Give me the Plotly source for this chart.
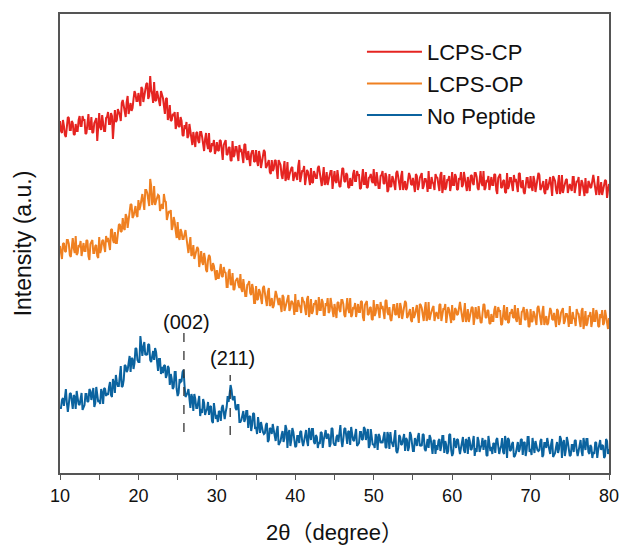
import numpy as np
import plotly.graph_objects as go

# 2-theta scan grid (degrees), 0.125 deg step
two_theta = np.round(np.arange(10, 80.001, 0.125), 3)

# Intensities (arbitrary units, stacked offsets included), 8 points per degree
lcps_cp = [
    353,343,341,354,348,339,337,351, 357,356,344,344,353,351,340,339,
    350,343,343,354,358,348,348,358, 354,354,340,341,356,360,345,345,
    357,341,342,351,353,356,333,347, 361,347,344,359,351,343,343,356,
    357,362,350,350,361,358,335,346, 364,352,354,365,362,359,353,371,
    374,369,362,357,372,378,360,364, 371,363,366,375,383,380,373,373,
    381,375,368,387,385,372,377,385, 390,391,375,378,398,384,380,371,
    392,374,373,383,377,375,368,383, 379,376,368,360,375,376,354,358,
    369,353,354,360,359,362,345,350, 362,348,347,357,353,339,338,349,
    345,352,336,338,350,343,337,329, 342,331,327,341,342,333,331,342,
    342,337,326,323,335,341,330,325, 341,322,323,331,328,334,320,324,
    332,324,323,334,333,318,314,329, 332,334,319,320,326,327,314,313,
    333,317,319,327,327,320,313,329, 322,325,314,311,329,330,317,314,
    323,311,308,320,323,323,312,313, 324,313,308,323,317,306,312,317,
    324,322,306,308,311,314,302,300, 314,303,305,313,314,305,295,314,
    312,309,299,295,305,313,293,297, 312,294,299,304,306,307,293,298,
    302,298,294,308,314,292,297,303, 303,308,289,295,304,302,294,289,
    306,292,291,303,300,296,296,306, 308,301,291,288,297,307,289,292,
    302,289,294,299,303,303,285,294, 303,293,291,304,298,288,287,300,
    306,305,293,292,301,299,287,286, 296,289,289,300,304,293,293,303,
    299,299,285,286,301,305,290,290, 302,286,287,296,297,300,293,291,
    305,291,288,302,294,286,286,298, 299,303,291,290,301,297,282,284,
    300,287,288,298,295,291,284,301, 303,297,290,284,298,303,284,288,
    293,284,286,294,301,298,290,289, 296,289,282,300,298,284,288,296,
    300,301,285,288,295,295,291,282, 303,286,286,297,292,290,284,300,
    297,296,289,283,299,302,281,287, 299,284,287,294,294,298,283,289,
    302,289,289,300,297,284,285,296, 294,302,287,289,302,296,291,283,
    297,287,283,298,299,291,289,301, 301,297,286,284,296,303,291,288,
    303,284,286,294,292,298,284,289, 297,289,289,300,299,284,280,296,
    298,300,286,287,293,294,282,281, 301,285,288,296,296,289,283,299,
    292,295,285,282,300,301,288,286, 294,282,280,292,296,296,286,287,
    298,287,283,298,293,282,289,294, 301,299,284,286,290,293,282,280,
    295,284,287,295,297,288,278,298, 296,293,284,280,291,299,280,284,
    299,281,286,291,294,295,281,286, 290,286,283,297,297,281,286,293,
    292,297,278,284,294,291,284,278, 296,282,281,293,291,286,287,296,
    299,292,282,279,288,298,279,283, 292,279,284,289,294,293,276,284,
    290,
]

lcps_op = [
    228,218,215,230,231,223,222,234, 234,230,219,217,230,236,226,221,
    238,219,221,229,227,233,218,224, 231,223,223,234,233,218,214,230,
    232,234,221,221,228,229,218,216, 237,221,225,233,234,227,222,238,
    232,236,227,224,244,245,234,231, 242,231,231,243,249,250,242,243,
    256,246,244,260,257,246,255,261, 270,269,256,258,264,268,259,257,
    274,264,268,277,280,272,264,284, 284,281,272,268,295,288,269,273,
    288,269,273,277,279,278,263,267, 270,265,280,273,272,254,258,263,
    261,264,244,248,257,252,243,236, 252,237,234,245,242,235,235,242,
    244,236,225,221,229,237,218,220, 229,215,219,223,227,225,207,214,
    223,212,209,221,215,204,202,214, 219,217,205,203,211,208,197,194,
    204,196,196,206,210,198,197,207, 202,201,187,187,202,205,190,189,
    201,184,185,193,194,196,189,186, 200,185,182,195,187,178,178,189,
    190,193,181,179,190,185,171,171, 188,174,175,185,182,177,170,186,
    188,181,174,168,182,186,168,170, 176,166,168,176,183,179,171,169,
    176,169,162,179,177,163,167,174, 178,179,163,166,173,172,169,159,
    180,163,163,174,169,167,161,177, 173,172,165,159,175,178,157,163,
    175,160,163,170,170,174,159,165, 177,164,164,175,172,159,159,171,
    168,176,161,163,176,170,165,157, 170,160,156,171,172,164,162,174,
    174,170,159,157,169,176,165,161, 176,157,159,167,165,171,157,162,
    170,162,162,173,172,157,153,169, 171,173,159,160,166,167,155,154,
    174,158,161,169,169,162,156,172, 165,168,158,155,173,174,162,159,
    167,155,153,165,169,169,159,160, 171,160,156,171,166,155,162,167,
    173,171,156,158,162,165,154,152, 167,156,159,167,169,160,151,170,
    169,166,157,153,164,172,153,157, 172,154,159,164,166,168,153,159,
    162,158,155,169,170,153,159,165, 165,170,151,157,167,164,157,151,
    169,155,154,166,164,159,160,169, 172,165,155,152,161,171,152,156,
    165,152,157,162,167,166,149,157, 167,157,155,168,162,152,151,164,
    170,169,157,156,164,163,151,150, 160,153,153,164,168,157,157,167,
    163,163,149,150,165,169,155,154, 167,151,152,161,161,165,157,156,
    169,155,152,166,158,150,150,162, 163,167,155,154,165,161,147,148,
    165,152,153,163,160,156,149,166, 168,162,155,149,162,168,149,153,
    158,149,151,159,166,163,155,154, 161,154,147,165,163,149,153,161,
    165,166,150,153,160,160,156,147, 168,151,151,162,156,155,148,165,
    161,160,153,147,163,166,145,151, 163,148,151,158,158,162,147,153,
    166,153,153,164,160,148,147,160, 156,164,149,151,164,158,153,145,
    156,
]

no_peptide = [
    66,66,74,76,68,80,85,71, 62,70,80,81,70,65,79,77,
    65,83,76,70,69,77,81,64, 67,69,80,80,72,73,85,83,
    74,80,86,67,71,87,79,72, 74,70,85,81,70,86,85,78,
    81,79,87,92,79,77,95,91, 81,99,92,88,88,98,108,87,
    88,94,109,108,102,104,113,118, 102,116,115,105,111,126,125,114,
    112,112,138,123,118,127,132,119, 120,119,130,129,114,112,120,123,
    114,126,122,111,103,115,115,100, 107,101,108,109,96,99,108,106,
    89,100,95,85,87,102,102,85, 78,81,95,92,93,102,104,89,
    77,79,81,85,70,66,80,76, 63,80,75,66,66,72,78,58,
    65,61,75,71,59,63,65,72, 59,67,68,53,51,71,65,55,
    59,52,63,62,53,66,69,59, 55,62,67,78,72,80,89,84,
    75,74,78,66,64,69,69,52, 52,54,61,63,52,55,63,63,
    46,57,58,43,49,61,60,45, 47,40,57,49,41,52,46,42,
    40,41,49,51,32,34,46,45, 40,50,44,36,33,43,48,29,
    31,33,39,43,32,36,49,45, 26,41,44,28,34,46,42,31,
    27,28,38,38,31,42,43,33, 28,33,41,44,33,28,46,40,
    34,45,45,32,30,39,37,26, 32,30,42,41,26,34,40,44,
    35,40,39,27,30,46,45,31, 29,29,37,39,32,43,49,34,
    27,35,45,46,35,30,43,42, 29,47,40,34,33,41,45,28,
    29,31,42,42,34,35,47,45, 34,40,45,26,29,45,36,29,
    30,26,40,36,24,40,38,31, 33,31,37,42,27,26,42,38,
    25,42,33,29,27,36,44,23, 21,26,39,37,29,30,37,40,
    23,36,34,23,27,42,39,27, 23,23,36,33,28,37,41,28,
    29,28,40,39,25,23,31,35, 26,39,36,26,20,33,34,20,
    29,24,33,35,23,28,38,38, 21,33,29,20,23,39,40,24,
    18,21,36,31,26,35,34,26, 20,26,31,37,24,21,35,33,
    20,37,33,24,25,31,38,18, 26,22,37,33,22,26,29,36,
    24,32,34,19,18,38,32,23, 27,20,31,30,21,34,36,25,
    20,25,28,36,22,20,38,32, 16,36,34,23,24,30,32,17,
    18,21,29,32,22,25,34,35, 19,31,32,18,24,37,37,22,
    25,19,36,29,21,33,28,24, 23,24,33,35,17,19,31,31,
    26,36,30,23,20,30,35,17, 19,21,27,32,21,25,38,35,
    16,31,34,18,24,37,32,22, 18,19,29,29,22,33,34,24,
    18,23,31,34,23,18,36,30, 24,35,35,22,20,29,27,16,
    22,20,32,31,16,24,30,34, 24,29,28,16,18,35,33,20,
    25,
]

series_names = ["LCPS-CP", "LCPS-OP", "No Peptide"]
series_colors = ["#E52421", "#EF8021", "#0B639F"]

# Peak markers on the No Peptide trace
peak_labels = ["(002)", "(211)"]
peak_pos = [25.8, 31.7]
peak_line_low = [42, 39]
peak_line_high = [141, 99]
peak_label_x = [26.1, 32.0]
peak_label_y = [152, 116]

x_ticks = [10, 20, 30, 40, 50, 60, 70, 80]

fig = go.Figure()
for name, ys, col in zip(series_names, [lcps_cp, lcps_op, no_peptide], series_colors):
    fig.add_trace(go.Scatter(
        x=two_theta, y=ys, mode="lines", name=name,
        line=dict(color=col, width=2.0),
    ))

for px, lo, hi in zip(peak_pos, peak_line_low, peak_line_high):
    fig.add_shape(type="line", xref="x", yref="y", x0=px, x1=px, y0=lo, y1=hi,
                  line=dict(color="#333333", width=1.3, dash="dash"))

for lab, lx, ly in zip(peak_labels, peak_label_x, peak_label_y):
    fig.add_annotation(x=lx, y=ly, xref="x", yref="y", text=lab, showarrow=False,
                       font=dict(size=20, color="#111111"))

axis_font = dict(family="Liberation Sans, Arial, sans-serif", color="#111111")

fig.update_layout(
    width=621, height=547,
    margin=dict(l=60, r=12, t=14, b=74),
    paper_bgcolor="white", plot_bgcolor="white",
    font=dict(family="Liberation Sans, Arial, 'Noto Sans CJK SC', sans-serif", color="#111111"),
    showlegend=True,
    legend=dict(x=0.55, y=0.963, xanchor="left", yanchor="top",
                font=dict(size=22, color="#111111"), bgcolor="rgba(0,0,0,0)",
                itemwidth=55, tracegroupgap=0),
    xaxis=dict(
        range=[10, 80], tickvals=x_ticks, ticks="outside", ticklen=5, tickwidth=1.3,
        tickcolor="#555555", showline=True, linecolor="#555555", linewidth=1.8,
        mirror=True, showgrid=False, zeroline=False, automargin=False,
        tickfont=dict(size=18, **axis_font),
        minor=dict(dtick=5, ticks="outside", ticklen=5, tickwidth=1.3, tickcolor="#555555"),
        title=dict(text="2θ（degree）", font=dict(size=22, family="Liberation Sans, 'Noto Sans CJK SC', sans-serif", color="#111111"), standoff=20),
    ),
    yaxis=dict(
        range=[1, 460], showticklabels=False, ticks="", showline=True,
        linecolor="#555555", linewidth=1.8, mirror=True, showgrid=False, zeroline=False,
        automargin=False,
        title=dict(text="Intensity (a.u.)", font=dict(size=23, **axis_font), standoff=20),
    ),
)

fig.write_html("out.html", config={"displayModeBar": False},
               post_script="document.body.style.margin='0';document.body.style.overflow='hidden';")
